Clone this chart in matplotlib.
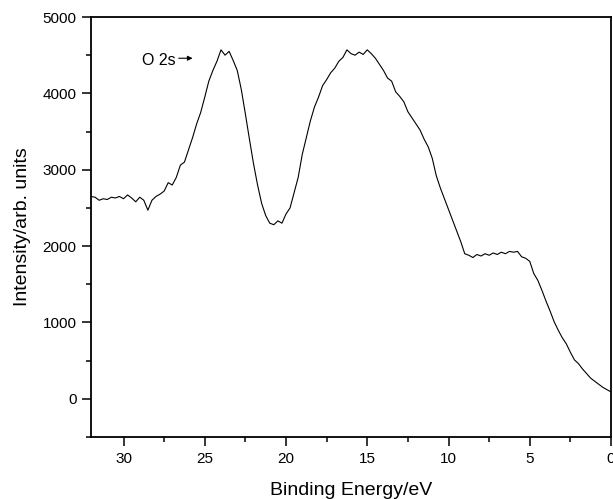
import matplotlib
matplotlib.use("Agg")
import matplotlib.pyplot as plt
from matplotlib.ticker import MultipleLocator

plt.rcParams['font.family'] = ['Liberation Sans', 'DejaVu Sans']

energy = [32.00, 31.75, 31.50, 31.25, 31.00, 30.75, 30.50, 30.25, 30.00, 29.75,
          29.50, 29.25, 29.00, 28.75, 28.50, 28.25, 28.00, 27.75, 27.50, 27.25,
          27.00, 26.75, 26.50, 26.25, 26.00, 25.75, 25.50, 25.25, 25.00, 24.75,
          24.50, 24.25, 24.00, 23.75, 23.50, 23.25, 23.00, 22.75, 22.50, 22.25,
          22.00, 21.75, 21.50, 21.25, 21.00, 20.75, 20.50, 20.25, 20.00, 19.75,
          19.50, 19.25, 19.00, 18.75, 18.50, 18.25, 18.00, 17.75, 17.50, 17.25,
          17.00, 16.75, 16.50, 16.25, 16.00, 15.75, 15.50, 15.25, 15.00, 14.75,
          14.50, 14.25, 14.00, 13.75, 13.50, 13.25, 13.00, 12.75, 12.50, 12.25,
          12.00, 11.75, 11.50, 11.25, 11.00, 10.75, 10.50, 10.25, 10.00, 9.75,
          9.50, 9.25, 9.00, 8.75, 8.50, 8.25, 8.00, 7.75, 7.50, 7.25,
          7.00, 6.75, 6.50, 6.25, 6.00, 5.75, 5.50, 5.25, 5.00, 4.75,
          4.50, 4.25, 4.00, 3.75, 3.50, 3.25, 3.00, 2.75, 2.50, 2.25,
          2.00, 1.75, 1.50, 1.25, 1.00, 0.75, 0.50, 0.25, 0.00]

intensity = [2650, 2640, 2600, 2620, 2610, 2640, 2630, 2650, 2620, 2670,
             2630, 2580, 2640, 2600, 2470, 2600, 2650, 2680, 2720, 2830,
             2800, 2900, 3060, 3100, 3260, 3420, 3600, 3750, 3950, 4160,
             4300, 4420, 4570, 4500, 4550, 4430, 4300, 4050, 3730, 3400,
             3080, 2800, 2560, 2400, 2300, 2280, 2330, 2300, 2420, 2500,
             2700, 2900, 3200, 3420, 3640, 3820, 3950, 4100, 4180, 4270,
             4330, 4420, 4470, 4570, 4520, 4500, 4540, 4510, 4570, 4520,
             4460, 4380, 4300, 4200, 4160, 4020, 3960, 3890, 3760, 3680,
             3600, 3520, 3400, 3300, 3150, 2920, 2760, 2620, 2480, 2340,
             2200, 2060, 1900, 1880, 1850, 1890, 1870, 1900, 1880, 1910,
             1890, 1920, 1900, 1930, 1920, 1930, 1860, 1840, 1800, 1640,
             1550, 1420, 1280, 1150, 1010, 900, 800, 720, 610, 510,
             460, 390, 330, 270, 230, 190, 150, 120, 90]

annot_text = "O 2s"
annot_text_xy = (28.85, 4430)
annot_arrow_start = (26.6, 4460)
annot_arrow_end = (25.75, 4460)

fig = plt.figure(figsize=(6.13, 4.99), dpi=100)
ax = fig.add_axes([91/613, 1 - 437/499, (611 - 91)/613, (437 - 17)/499])

ax.plot(energy, intensity, color='black', lw=0.8)

ax.set_xlim(32, 0)
ax.set_ylim(-500, 5000)
ax.xaxis.set_major_locator(MultipleLocator(5))
ax.xaxis.set_minor_locator(MultipleLocator(2.5))
ax.yaxis.set_major_locator(MultipleLocator(1000))
ax.yaxis.set_minor_locator(MultipleLocator(500))

for s in ax.spines.values():
    s.set_linewidth(1.3)

ax.tick_params(which='both', direction='out', top=False, right=False, width=1.1)
ax.tick_params(which='major', length=6.5, labelsize=11, pad=4)
ax.tick_params(which='minor', length=3.5)

ax.set_xlabel("Binding Energy/eV", fontsize=14, labelpad=12)
ax.set_ylabel("Intensity/arb. units", fontsize=14, labelpad=8)

ax.text(annot_text_xy[0], annot_text_xy[1], annot_text, fontsize=11.5,
        ha='left', va='center')
ax.annotate("", xy=annot_arrow_end, xytext=annot_arrow_start,
            arrowprops=dict(arrowstyle='-|>', color='black', lw=0.8,
                            mutation_scale=7, shrinkA=0, shrinkB=0))

fig.savefig("out.png", dpi=100)
